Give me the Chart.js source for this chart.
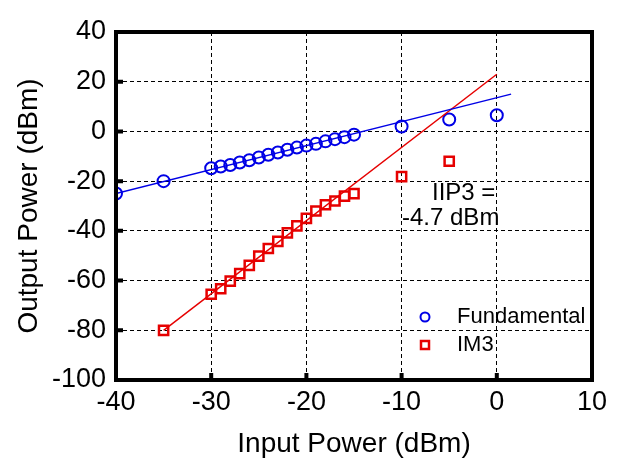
<!DOCTYPE html>
<html lang="en">
<head>
    <meta charset="UTF-8">
    <title>IIP3</title>
    <script src="https://cdn.jsdelivr.net/npm/chart.js"></script>
    <style>
        body { margin: 0; background: #fff; }
        #wrap { width: 625px; height: 465px; }
    </style>
</head>
<body>
    <div id="wrap"><canvas id="myChart" width="625" height="465"></canvas></div>

    <script>
        // measured points
        const fundX = [-40, -35, -30, -29, -28, -27, -26, -25, -24, -23, -22, -21, -20, -19, -18, -17, -16, -15, -10, -5, 0];
        const fundY = [-25, -20, -14.8, -14.1, -13.5, -12.5, -11.6, -10.5, -9.4, -8.5, -7.4, -6.5, -5.7, -5.0, -4.0, -3.1, -2.3, -1.3, 2, 4.8, 6.5];
        const im3X = [-35, -30, -29, -28, -27, -26, -25, -24, -23, -22, -21, -20, -19, -18, -17, -16, -15, -10, -5];
        const im3Y = [-80, -65.5, -63.3, -60.2, -57.2, -53.9, -50.2, -47.1, -44.2, -40.8, -38, -35, -32, -29.5, -28, -26, -25, -18.2, -12];
        // fitted lines
        const fundFitX = [-40, 1.5];
        const fundFitY = [-25, 15];
        const im3FitX = [-35, 0];
        const im3FitY = [-80, 23];

        const xTicks = [-40, -30, -20, -10, 0, 10];
        const yTicks = [40, 20, 0, -20, -40, -60, -80, -100];

        const BLUE = "#0000e6";
        const RED = "#e60000";
        const FONT = "'Liberation Sans', Arial, sans-serif";

        const pts = (xs, ys) => xs.map((x, i) => ({ x: x, y: ys[i] }));

        const frame = {
            id: "frame",
            afterDraw(chart) {
                const { ctx, chartArea: a, scales } = chart;
                ctx.save();
                // inward tick marks
                ctx.strokeStyle = "#000";
                ctx.lineWidth = 4;
                ctx.beginPath();
                xTicks.forEach(v => {
                    const px = scales.x.getPixelForValue(v);
                    ctx.moveTo(px, a.bottom);
                    ctx.lineTo(px, a.bottom - 7);
                });
                yTicks.forEach(v => {
                    const py = scales.y.getPixelForValue(v);
                    ctx.moveTo(a.left, py);
                    ctx.lineTo(a.left + 7, py);
                });
                ctx.stroke();
                ctx.lineWidth = 4;
                ctx.strokeRect(a.left, a.top, a.right - a.left, a.bottom - a.top);

                // annotation
                ctx.fillStyle = "#000";
                ctx.font = "24px " + FONT;
                ctx.textAlign = "left";
                ctx.textBaseline = "middle";
                ctx.fillText("IIP3 =", 432, 193);
                ctx.fillText("-4.7 dBm", 402, 218);

                // legend
                ctx.font = "22px " + FONT;
                ctx.fillText("Fundamental", 457, 317);
                ctx.fillText("IM3", 457, 345);
                ctx.lineWidth = 2;
                ctx.strokeStyle = BLUE;
                ctx.beginPath();
                ctx.arc(425, 317, 4.5, 0, Math.PI * 2);
                ctx.stroke();
                ctx.lineWidth = 2.5;
                ctx.strokeStyle = RED;
                ctx.strokeRect(421, 341, 8, 8);
                ctx.restore();
            }
        };

        new Chart(document.getElementById("myChart"), {
            type: "scatter",
            data: {
                datasets: [
                    {
                        label: "Fundamental fit",
                        data: pts(fundFitX, fundFitY),
                        showLine: true,
                        borderColor: BLUE,
                        borderWidth: 1.5,
                        pointRadius: 0
                    },
                    {
                        label: "IM3 fit",
                        data: pts(im3FitX, im3FitY),
                        showLine: true,
                        borderColor: RED,
                        borderWidth: 1.5,
                        pointRadius: 0
                    },
                    {
                        label: "Fundamental",
                        data: pts(fundX, fundY),
                        pointStyle: "circle",
                        pointRadius: 6,
                        pointBorderWidth: 2,
                        borderColor: BLUE,
                        backgroundColor: "rgba(0,0,0,0)"
                    },
                    {
                        label: "IM3",
                        data: pts(im3X, im3Y),
                        pointStyle: "rect",
                        pointRadius: 6.5,
                        pointBorderWidth: 2.5,
                        borderColor: RED,
                        backgroundColor: "rgba(0,0,0,0)"
                    }
                ]
            },
            options: {
                responsive: false,
                animation: false,
                layout: { padding: { top: 32, right: 33, left: 0, bottom: 0 } },
                plugins: {
                    legend: { display: false },
                    tooltip: { enabled: false }
                },
                scales: {
                    x: {
                        type: "linear",
                        min: -40,
                        max: 10,
                        afterBuildTicks: s => { s.ticks = xTicks.map(v => ({ value: v })); },
                        afterFit: s => { s.height = 85; },
                        grid: { color: "#000", lineWidth: 1, drawTicks: false },
                        border: { display: false, dash: [4, 3] },
                        ticks: { color: "#000", padding: 6, font: { family: FONT, size: 27 } },
                        title: {
                            display: true,
                            text: "Input Power (dBm)",
                            color: "#000",
                            padding: { top: 0 },
                            font: { family: FONT, size: 28 }
                        }
                    },
                    y: {
                        type: "linear",
                        min: -100,
                        max: 40,
                        afterBuildTicks: s => { s.ticks = yTicks.map(v => ({ value: v })); },
                        afterFit: s => { s.width = 116; },
                        grid: { color: "#000", lineWidth: 1, drawTicks: false },
                        border: { display: false, dash: [4, 3] },
                        ticks: { color: "#000", padding: 10, font: { family: FONT, size: 27 } },
                        title: {
                            display: true,
                            text: "Output Power (dBm)",
                            color: "#000",
                            padding: { top: 12, bottom: 0 },
                            font: { family: FONT, size: 28 }
                        }
                    }
                }
            },
            plugins: [frame]
        });
    </script>
</body>
</html>
